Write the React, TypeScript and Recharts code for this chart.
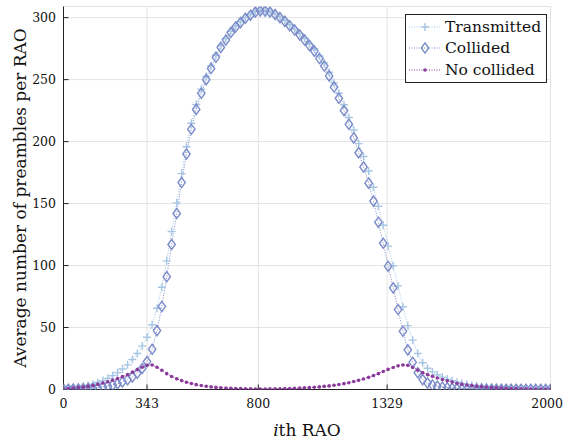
import React from "react";
import { CartesianGrid, Legend, Line, LineChart, XAxis, YAxis } from "recharts";

// RAO index of each sample (100 points over 0..2000)
const rao = [
  0, 20, 40, 61, 81, 101, 121, 141, 162, 182,
  202, 222, 242, 263, 283, 303, 323, 343, 364, 384,
  404, 424, 444, 465, 485, 505, 525, 545, 566, 586,
  606, 626, 646, 667, 687, 707, 727, 747, 768, 788,
  808, 828, 848, 869, 889, 909, 929, 949, 970, 990,
  1010, 1030, 1051, 1071, 1091, 1111, 1131, 1152, 1172, 1192,
  1212, 1232, 1253, 1273, 1293, 1313, 1333, 1354, 1374, 1394,
  1414, 1434, 1455, 1475, 1495, 1515, 1535, 1556, 1576, 1596,
  1616, 1636, 1657, 1677, 1697, 1717, 1737, 1758, 1778, 1798,
  1818, 1838, 1859, 1879, 1899, 1919, 1939, 1960, 1980, 2000,
];

const transmitted = [
  0.6, 1.0, 1.4, 1.9, 2.5, 3.3, 4.3, 5.6, 7.2, 9.0,
  11.2, 13.6, 16.5, 19.9, 24.2, 29.1, 35.0, 42.1, 52.3, 65.5,
  82.5, 103.8, 127.5, 150.6, 174.2, 195.9, 214.8, 229.9, 242.2, 252.6,
  261.1, 269.7, 277.4, 283.1, 288.9, 293.3, 296.7, 300.1, 302.5, 305.0,
  306.0, 305.8, 305.0, 303.0, 300.6, 297.7, 294.3, 290.9, 287.1, 283.3,
  279.0, 274.8, 269.1, 263.5, 255.9, 247.4, 239.0, 229.7, 219.5, 209.4,
  198.4, 188.0, 176.3, 163.2, 147.8, 132.5, 115.7, 99.8, 83.6, 66.8,
  51.5, 39.8, 29.1, 21.6, 17.2, 14.2, 11.9, 10.0, 8.4, 7.0,
  5.9, 4.9, 4.1, 3.4, 2.8, 2.4, 2.1, 1.7, 1.5, 1.3,
  1.1, 1.0, 0.8, 0.7, 0.6, 0.6, 0.5, 0.5, 0.4, 0.4,
];

const collided = [
  0.1, 0.2, 0.3, 0.4, 0.6, 0.8, 1.1, 1.5, 2.0, 2.7,
  3.6, 4.7, 6.1, 7.9, 10.2, 13.1, 17.0, 22.5, 32.5, 47.5,
  67, 91, 117, 142, 167, 190, 210, 226, 239, 250,
  259, 268, 276, 282, 288, 292.5, 296, 299.5, 302, 304.5,
  305.5, 305.3, 304.5, 302.5, 300, 297, 293.5, 290, 286, 282,
  277.5, 273, 267, 261, 253, 244, 235, 225, 214, 203,
  191, 179.5, 166.5, 152, 135, 118, 99.5, 82, 64.5, 47,
  32, 22, 13.5, 8, 5.2, 3.6, 2.6, 1.9, 1.4, 1.0,
  0.8, 0.6, 0.5, 0.4, 0.3, 0.3, 0.25, 0.2, 0.2, 0.2,
  0.15, 0.15, 0.1, 0.1, 0.1, 0.1, 0.1, 0.1, 0.1, 0.1,
];

const noCollided = [
  0.5, 0.8, 1.1, 1.5, 1.9, 2.5, 3.2, 4.1, 5.2, 6.3,
  7.6, 8.9, 10.4, 12.0, 14.0, 16.0, 18.0, 19.6, 19.8, 18.0,
  15.5, 12.8, 10.5, 8.6, 7.2, 5.9, 4.8, 3.9, 3.2, 2.6,
  2.1, 1.7, 1.4, 1.1, 0.9, 0.8, 0.7, 0.6, 0.5, 0.45,
  0.45, 0.45, 0.5, 0.5, 0.6, 0.7, 0.8, 0.9, 1.1, 1.3,
  1.5, 1.8, 2.1, 2.5, 2.9, 3.4, 4.0, 4.7, 5.5, 6.4,
  7.4, 8.5, 9.8, 11.2, 12.8, 14.5, 16.2, 17.8, 19.1, 19.8,
  19.5, 17.8, 15.6, 13.6, 12.0, 10.6, 9.3, 8.1, 7.0, 6.0,
  5.1, 4.3, 3.6, 3.0, 2.5, 2.1, 1.8, 1.5, 1.3, 1.1,
  0.9, 0.8, 0.7, 0.6, 0.5, 0.45, 0.4, 0.35, 0.3, 0.3,
];

const xTicks = [0, 343, 800, 1329, 2000];
const xMinorTicks = [
  68.6, 137.2, 205.8, 274.4, 434.4, 525.8, 617.2, 708.6,
  905.8, 1011.6, 1117.4, 1223.2, 1463.2, 1597.4, 1731.6, 1865.8,
];
const yTicks = [0, 50, 100, 150, 200, 250, 300];
const yMinorTicks = [
  10, 20, 30, 40, 60, 70, 80, 90, 110, 120, 130, 140,
  160, 170, 180, 190, 210, 220, 230, 240, 260, 270, 280, 290,
];

const seriesNames = ["Transmitted", "Collided", "No collided"];
const yLabel = "Average number of preambles per RAO";

const data = rao.map((x, i) => ({
  x,
  transmitted: transmitted[i],
  collided: collided[i],
  noCollided: noCollided[i],
}));

const FONT = '"DejaVu Serif", serif';
const TICK_FS = 12.5;
const C_T = "#a6c6e4";
const C_C = "#7c8bc9";
const C_N = "#8b3a9c";
const AXIS = "#222";

function plusPath(cx: number, cy: number) {
  return `M${cx - 4},${cy}H${cx + 4}M${cx},${cy - 4}V${cy + 4}`;
}
function diamondPath(cx: number, cy: number) {
  return `M${cx},${cy - 5.1}L${cx + 3.7},${cy}L${cx},${cy + 5.1}L${cx - 3.7},${cy}Z`;
}

const PlusDot = (p: any) => (
  <path key={`t-${p.index}`} d={plusPath(p.cx, p.cy)} stroke={C_T} strokeWidth={1.4} fill="none" />
);
const DiamondDot = (p: any) => (
  <path key={`c-${p.index}`} d={diamondPath(p.cx, p.cy)} stroke={C_C} strokeWidth={1.4} fill="none" />
);
const SmallDot = (p: any) => (
  <circle key={`n-${p.index}`} cx={p.cx} cy={p.cy} r={1.8} fill={C_N} stroke="none" />
);

// bottom tick label; the last one is kept inside the picture
const XTick = (p: any) => {
  const label = String(p.payload.value);
  const half = (label.length * 0.636 * TICK_FS) / 2;
  const x = Math.min(p.x, 563 - half);
  return (
    <text x={x} y={p.y} dy="0.71em" textAnchor="middle" fontFamily={FONT} fontSize={TICK_FS} fill="#111">
      {label}
    </text>
  );
};

function LegendBox() {
  const rows = [
    { name: seriesNames[0], color: C_T, marker: <path d={plusPath(19, 10)} stroke={C_T} strokeWidth={1.4} fill="none" /> },
    { name: seriesNames[1], color: C_C, marker: <path d={diamondPath(19, 10)} stroke={C_C} strokeWidth={1.4} fill="none" /> },
    { name: seriesNames[2], color: C_N, marker: <circle cx={19} cy={10} r={1.8} fill={C_N} /> },
  ];
  return (
    <div
      style={{
        border: `1px solid ${AXIS}`,
        background: "#fff",
        width: 140,
        paddingTop: 1,
        paddingBottom: 1,
        fontFamily: FONT,
        fontSize: 15.5,
        color: "#111",
      }}
    >
      {rows.map((r) => (
        <div key={r.name} style={{ display: "flex", alignItems: "center", height: 21.5 }}>
          <svg width={37} height={20} style={{ display: "block" }}>
            <line x1={3} y1={10} x2={35} y2={10} stroke={r.color} strokeWidth={1} strokeDasharray="1 1.5" />
            {r.marker}
          </svg>
          <span style={{ marginLeft: 2, lineHeight: "20px" }}>{r.name}</span>
        </div>
      ))}
    </div>
  );
}

function YLabel(props: any) {
  const vb = props.viewBox || { x: 0, y: 6.5, width: 63.5, height: 383 };
  const cy = vb.y + vb.height / 2;
  const cx = 20;
  return (
    <text
      x={cx}
      y={cy}
      transform={`rotate(-90, ${cx}, ${cy})`}
      textAnchor="middle"
      dominantBaseline="central"
      fontFamily={FONT}
      fontSize={17}
      fill="#111"
    >
      {yLabel}
    </text>
  );
}

function XLabel(props: any) {
  const vb = props.viewBox || { x: 63.5, y: 389.5, width: 487, height: 51.5 };
  const cx = vb.x + vb.width / 2;
  return (
    <text x={cx} y={vb.y + 46} textAnchor="middle" fontFamily={FONT} fontSize={17} fill="#111">
      <tspan fontStyle="italic">i</tspan>th RAO
    </text>
  );
}

const tickStyle = { fontFamily: FONT, fontSize: TICK_FS, fill: "#111" };
const noLabel = () => "";

export default function App() {
  return (
    <div style={{ position: "absolute", left: 0, top: 0, width: 564, height: 441, background: "#fff" }}>
      <LineChart width={564} height={441} data={data} margin={{ top: 6.5, right: 13.5, left: 0, bottom: 0 }}>
        <CartesianGrid stroke="#e3e3e3" strokeWidth={1} />
        <XAxis
          dataKey="x"
          type="number"
          domain={[0, 2000]}
          allowDataOverflow
          ticks={xTicks}
          interval={0}
          height={51.5}
          tickSize={-5}
          tickMargin={15}
          axisLine={{ stroke: AXIS }}
          tickLine={{ stroke: AXIS }}
          tick={XTick}
          label={XLabel}
        />
        <XAxis
          xAxisId="xminor"
          dataKey="x"
          type="number"
          domain={[0, 2000]}
          allowDataOverflow
          ticks={xMinorTicks}
          interval={0}
          height={0}
          tickSize={-3}
          axisLine={false}
          tickLine={{ stroke: AXIS }}
          tickFormatter={noLabel}
        />
        <XAxis
          xAxisId="xtop"
          orientation="top"
          dataKey="x"
          type="number"
          domain={[0, 2000]}
          allowDataOverflow
          ticks={xTicks}
          interval={0}
          height={0}
          tickSize={-5}
          axisLine={{ stroke: AXIS }}
          tickLine={{ stroke: AXIS }}
          tickFormatter={noLabel}
        />
        <XAxis
          xAxisId="xtopminor"
          orientation="top"
          dataKey="x"
          type="number"
          domain={[0, 2000]}
          allowDataOverflow
          ticks={xMinorTicks}
          interval={0}
          height={0}
          tickSize={-3}
          axisLine={false}
          tickLine={{ stroke: AXIS }}
          tickFormatter={noLabel}
        />
        <YAxis
          type="number"
          domain={[0, 309]}
          allowDataOverflow
          ticks={yTicks}
          interval={0}
          width={63.5}
          tickSize={-5}
          tickMargin={12.5}
          axisLine={{ stroke: AXIS }}
          tickLine={{ stroke: AXIS }}
          tick={tickStyle}
          label={YLabel}
        />
        <YAxis
          yAxisId="yminor"
          type="number"
          domain={[0, 309]}
          allowDataOverflow
          ticks={yMinorTicks}
          interval={0}
          width={0}
          tickSize={-3}
          axisLine={false}
          tickLine={{ stroke: AXIS }}
          tickFormatter={noLabel}
        />
        <YAxis
          yAxisId="yright"
          orientation="right"
          type="number"
          domain={[0, 309]}
          allowDataOverflow
          ticks={yTicks}
          interval={0}
          width={0}
          tickSize={-5}
          axisLine={{ stroke: AXIS }}
          tickLine={{ stroke: AXIS }}
          tickFormatter={noLabel}
        />
        <YAxis
          yAxisId="yrightminor"
          orientation="right"
          type="number"
          domain={[0, 309]}
          allowDataOverflow
          ticks={yMinorTicks}
          interval={0}
          width={0}
          tickSize={-3}
          axisLine={false}
          tickLine={{ stroke: AXIS }}
          tickFormatter={noLabel}
        />
        <Line
          type="linear"
          dataKey="transmitted"
          name={seriesNames[0]}
          stroke={C_T}
          strokeWidth={1}
          strokeDasharray="1 1.5"
          dot={PlusDot}
          activeDot={false}
          isAnimationActive={false}
        />
        <Line
          type="linear"
          dataKey="collided"
          name={seriesNames[1]}
          stroke={C_C}
          strokeWidth={1}
          strokeDasharray="1 1.5"
          dot={DiamondDot}
          activeDot={false}
          isAnimationActive={false}
        />
        <Line
          type="linear"
          dataKey="noCollided"
          name={seriesNames[2]}
          stroke={C_N}
          strokeWidth={1}
          strokeDasharray="1 1.5"
          dot={SmallDot}
          activeDot={false}
          isAnimationActive={false}
        />
        <Legend
          layout="vertical"
          align="center"
          verticalAlign="middle"
          wrapperStyle={{ left: 405, top: 14, width: "auto" }}
          content={LegendBox}
        />
      </LineChart>
    </div>
  );
}
